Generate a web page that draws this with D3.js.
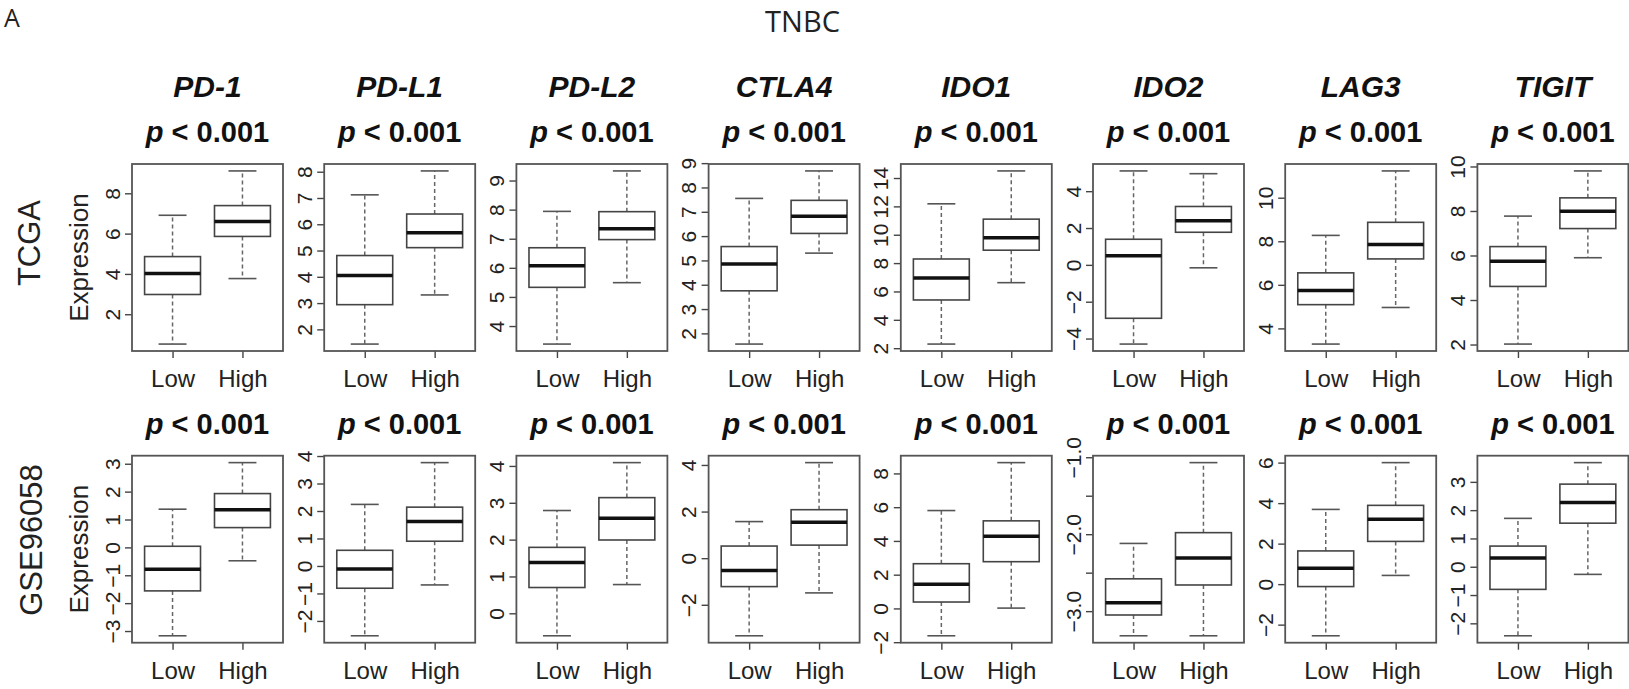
<!DOCTYPE html>
<html>
<head>
<meta charset="utf-8">
<script src="https://cdn.jsdelivr.net/npm/d3@7"></script>
<style>
  body { margin: 0; background: #fff; }
  svg text { font-family: "Liberation Sans", Arial, Helvetica, sans-serif; fill: #111; }
  .hdr { font-family: "Open Sans", sans-serif !important; }
</style>
</head>
<body>
<svg width="1629" height="689"></svg>
<script>
var genes = ["PD-1", "PD-L1", "PD-L2", "CTLA4", "IDO1", "IDO2", "LAG3", "TIGIT"];
var cohorts = ["TCGA", "GSE96058"];
var groups = ["Low", "High"];
var pText = "< 0.001";

// five numbers per box: lower whisker, Q1, median, Q3, upper whisker
var tcgaLow = [
  [0.52, 2.98, 4.02, 4.86, 6.91],
  [1.44, 2.94, 4.05, 4.81, 7.12],
  [3.38, 5.33, 6.07, 6.69, 7.94],
  [1.56, 3.75, 4.85, 5.57, 7.55],
  [2.29, 5.40, 6.95, 8.29, 12.18],
  [-4.30, -2.90, 0.49, 1.39, 5.10],
  [3.28, 5.09, 5.74, 6.55, 8.27],
  [2.02, 4.61, 5.74, 6.40, 7.77]
];
var tcgaHigh = [
  [3.77, 5.86, 6.60, 7.39, 9.11],
  [3.31, 5.11, 5.68, 6.39, 8.03],
  [5.49, 6.97, 7.34, 7.93, 9.33],
  [5.30, 6.11, 6.82, 7.47, 8.68],
  [6.62, 8.91, 9.79, 11.10, 14.50],
  [-0.16, 1.77, 2.40, 3.17, 4.95],
  [4.96, 7.19, 7.85, 8.87, 11.23],
  [5.90, 7.21, 7.99, 8.59, 9.80]
];
var gseLow = [
  [-3.17, -1.56, -0.78, 0.04, 1.37],
  [-2.54, -0.81, -0.11, 0.57, 2.24],
  [-0.61, 0.70, 1.38, 1.79, 2.79],
  [-3.33, -1.22, -0.53, 0.52, 1.57],
  [-1.62, 0.38, 1.43, 2.65, 5.80],
  [-3.32, -3.05, -2.89, -2.58, -2.12],
  [-2.55, -0.12, 0.79, 1.64, 3.69],
  [-2.44, -0.80, 0.31, 0.73, 1.71]
];
var gseHigh = [
  [-0.48, 0.71, 1.35, 1.93, 3.04],
  [-0.69, 0.90, 1.62, 2.14, 3.76],
  [0.78, 1.99, 2.58, 3.14, 4.09],
  [-1.49, 0.56, 1.54, 2.08, 4.10],
  [0.02, 2.77, 4.27, 5.19, 8.64],
  [-3.32, -2.66, -2.31, -1.98, -1.07],
  [0.43, 2.11, 3.20, 3.89, 6.00],
  [-0.27, 1.54, 2.27, 2.92, 3.68]
];
var tcgaTicks = [
  [2, 4, 6, 8],
  [2, 3, 4, 5, 6, 7, 8],
  [4, 5, 6, 7, 8, 9],
  [2, 3, 4, 5, 6, 7, 8, 9],
  [2, 4, 6, 8, 10, 12, 14],
  [-4, -2, 0, 2, 4],
  [4, 6, 8, 10],
  [2, 4, 6, 8, 10]
];
var gseTicks = [
  [-3, -2, -1, 0, 1, 2, 3],
  [-2, -1, 0, 1, 2, 3, 4],
  [0, 1, 2, 3, 4],
  [-2, 0, 2, 4],
  [-2, 0, 2, 4, 6, 8],
  [-3, -2.5, -2, -1.5, -1],
  [-2, 0, 2, 4, 6],
  [-2, -1, 0, 1, 2, 3]
];

var svg = d3.select("svg");
var left0 = 132, colStep = 192.2, pw = 151, ph = 187;
var rowTop = [164, 455.7];

function fmt(step) {
  return function(d) {
    var s;
    if (step < 1) s = (d % 1 === 0) ? d.toFixed(1) : "";  // R dropped the half labels
    else s = String(d);
    return s.replace("-", "\u2212");
  };
}

function drawPanel(r, c, lowBox, highBox, ticks) {
  var left = left0 + c * colStep, top = rowTop[r];
  var all = lowBox.concat(highBox);
  var lo = d3.min(all), hi = d3.max(all), pad = (hi - lo) * 0.04;

  var x = d3.scaleLinear().domain([0.42, 2.58]).range([left, left + pw]);
  var y = d3.scaleLinear().domain([lo - pad, hi + pad]).range([top + ph, top]);

  var g = svg.append("g");

  // y axis, labels turned like R
  var ya = g.append("g")
    .attr("transform", "translate(" + left + ",0)")
    .call(d3.axisLeft(y).tickValues(ticks).tickSize(7).tickFormat(fmt(ticks[1] - ticks[0])));
  ya.select(".domain").remove();
  ya.selectAll("line").attr("stroke", "#444").attr("stroke-width", 1.4);
  ya.selectAll("text")
    .attr("transform", "rotate(-90)")
    .attr("x", 0).attr("y", -12.5).attr("dy", 0)
    .attr("text-anchor", "middle")
    .style("font-size", "21px").style("fill", "#222");

  var xa = g.append("g")
    .attr("transform", "translate(0," + (top + ph) + ")")
    .call(d3.axisBottom(x).tickValues([1, 2]).tickSize(7).tickFormat(function(d, i) { return groups[i]; }));
  xa.select(".domain").remove();
  xa.selectAll("line").attr("stroke", "#444").attr("stroke-width", 1.4);
  xa.selectAll("text").attr("y", 36).attr("dy", 0)
    .style("font-size", "24px").style("fill", "#222");

  [lowBox, highBox].forEach(function(b, i) {
    var cx = i + 1;
    // whiskers
    g.append("line").attr("x1", x(cx)).attr("x2", x(cx)).attr("y1", y(b[3])).attr("y2", y(b[4]))
      .attr("stroke", "#666").attr("stroke-width", 1.5).attr("stroke-dasharray", "4,3");
    g.append("line").attr("x1", x(cx)).attr("x2", x(cx)).attr("y1", y(b[1])).attr("y2", y(b[0]))
      .attr("stroke", "#666").attr("stroke-width", 1.5).attr("stroke-dasharray", "4,3");
    // caps
    [b[0], b[4]].forEach(function(v) {
      g.append("line").attr("x1", x(cx - 0.2)).attr("x2", x(cx + 0.2)).attr("y1", y(v)).attr("y2", y(v))
        .attr("stroke", "#555").attr("stroke-width", 1.6);
    });
    g.append("rect")
      .attr("x", x(cx - 0.4)).attr("width", x(cx + 0.4) - x(cx - 0.4))
      .attr("y", y(b[3])).attr("height", y(b[1]) - y(b[3]))
      .attr("fill", "#fff").attr("stroke", "#444").attr("stroke-width", 1.6);
    g.append("line").attr("x1", x(cx - 0.4)).attr("x2", x(cx + 0.4)).attr("y1", y(b[2])).attr("y2", y(b[2]))
      .attr("stroke", "#111").attr("stroke-width", 3.5);
  });

  // plot frame
  g.append("rect").attr("x", left).attr("y", top).attr("width", pw).attr("height", ph)
    .attr("fill", "none").attr("stroke", "#555").attr("stroke-width", 1.8);

  // p value
  var pt = g.append("text").attr("x", left + pw / 2).attr("y", top - 22)
    .attr("text-anchor", "middle").style("font-size", "29px").style("font-weight", "bold");
  pt.append("tspan").style("font-style", "italic").text("p");
  pt.append("tspan").text(" " + pText);

  if (r === 0) {
    g.append("text").attr("x", left + pw / 2).attr("y", top - 67)
      .attr("text-anchor", "middle")
      .style("font-size", "30px").style("font-weight", "bold").style("font-style", "italic")
      .text(genes[c]);
  }
  if (c === 0) {
    g.append("text")
      .attr("transform", "translate(" + (left - 44.5) + "," + (top + ph / 2) + ") rotate(-90)")
      .attr("text-anchor", "middle").style("font-size", "26px").style("fill", "#222")
      .text("Expression");
  }
}

genes.forEach(function(gn, c) {
  drawPanel(0, c, tcgaLow[c], tcgaHigh[c], tcgaTicks[c]);
  drawPanel(1, c, gseLow[c], gseHigh[c], gseTicks[c]);
});

// row labels
svg.append("text").attr("transform", "translate(40,243) rotate(-90)")
  .attr("text-anchor", "middle").style("font-size", "31px").style("fill", "#222").text(cohorts[0]);
svg.append("text").attr("transform", "translate(41.5,540) rotate(-90)")
  .attr("text-anchor", "middle").style("font-size", "31px").style("fill", "#222").text(cohorts[1]);

svg.append("text").attr("class", "hdr").attr("x", 802.5).attr("y", 31.5)
  .attr("text-anchor", "middle").style("font-size", "29px").style("fill", "#222").text("TNBC");
svg.append("text").attr("class", "hdr").attr("x", 4).attr("y", 27)
  .style("font-size", "25px").style("fill", "#222").text("A");
</script>
</body>
</html>
